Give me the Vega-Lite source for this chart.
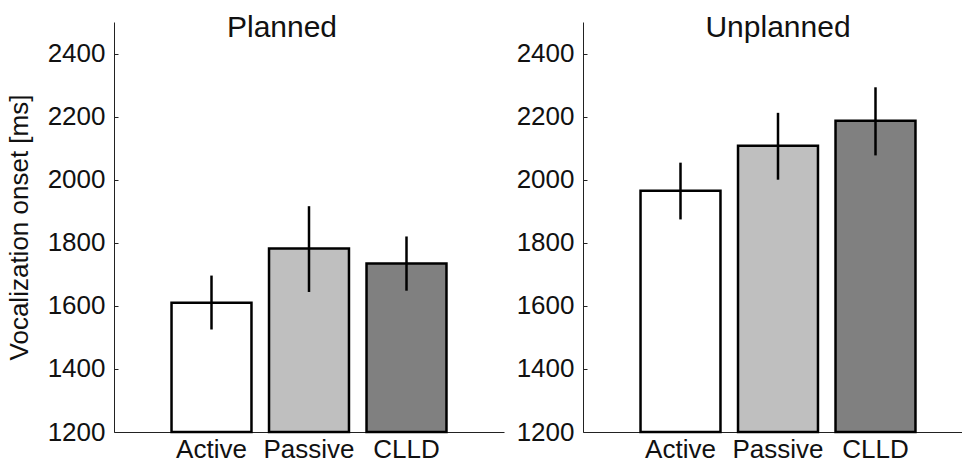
{
  "$schema": "https://vega.github.io/schema/vega-lite/v6.json",
  "background": "white",
  "padding": {"left": 6, "top": 13, "right": 0, "bottom": 0},
  "spacing": 12,
  "config": {
    "view": {"stroke": null},
    "font": "Liberation Sans",
    "axis": {"grid": false, "domainColor": "#222", "tickColor": "#222", "labelColor": "#111", "titleColor": "#111", "labelFont": "Liberation Sans", "titleFont": "Liberation Sans", "labelFontSize": 26, "titleFontSize": 26, "titleFontWeight": "normal"},
    "title": {"font": "Liberation Sans", "fontSize": 30, "fontWeight": "normal", "color": "#111"}
  },
  "data": {"values": [
    {"panel": "Planned", "cond": "Active", "mean": 1610, "lo": 1525, "hi": 1696},
    {"panel": "Planned", "cond": "Passive", "mean": 1782, "lo": 1644, "hi": 1916},
    {"panel": "Planned", "cond": "CLLD", "mean": 1734, "lo": 1648, "hi": 1820},
    {"panel": "Unplanned", "cond": "Active", "mean": 1965, "lo": 1874, "hi": 2054},
    {"panel": "Unplanned", "cond": "Passive", "mean": 2108, "lo": 2000, "hi": 2212},
    {"panel": "Unplanned", "cond": "CLLD", "mean": 2187, "lo": 2077, "hi": 2293}
  ]},
  "hconcat": [
    {
      "width": 390, "height": 410,
      "title": {"text": "Planned", "offset": -21, "anchor": "middle", "dx": -27},
      "transform": [{"filter": "datum.panel === 'Planned'"}],
      "encoding": {
        "x": {"field": "cond", "type": "nominal", "sort": ["Active", "Passive", "CLLD"], "title": null,
              "scale": {"paddingInner": 0.18, "paddingOuter": 0.59},
              "axis": {"labelAngle": 0, "ticks": false, "labelPadding": 4}}
      },
      "layer": [
        {"mark": {"type": "bar", "stroke": "black", "strokeWidth": 2.5},
         "encoding": {
           "y": {"field": "mean", "type": "quantitative", "title": "Vocalization onset [ms]",
                 "scale": {"domain": [1200, 2500], "zero": false, "nice": false},
                 "axis": {"values": [1200, 1400, 1600, 1800, 2000, 2200, 2400], "format": "d", "tickSize": -4, "labelPadding": 13, "titlePadding": 15}},
           "y2": {"datum": 1200},
           "color": {"field": "cond", "type": "nominal", "scale": {"domain": ["Active", "Passive", "CLLD"], "range": ["#ffffff", "#bfbfbf", "#808080"]}, "legend": null}
         }},
        {"mark": {"type": "rule", "color": "black", "strokeWidth": 2.5},
         "encoding": {"y": {"field": "lo", "type": "quantitative"}, "y2": {"field": "hi"}}}
      ]
    },
    {
      "width": 390, "height": 410,
      "title": {"text": "Unplanned", "offset": -21, "anchor": "middle"},
      "transform": [{"filter": "datum.panel === 'Unplanned'"}],
      "encoding": {
        "x": {"field": "cond", "type": "nominal", "sort": ["Active", "Passive", "CLLD"], "title": null,
              "scale": {"paddingInner": 0.18, "paddingOuter": 0.59},
              "axis": {"labelAngle": 0, "ticks": false, "labelPadding": 4}}
      },
      "layer": [
        {"mark": {"type": "bar", "stroke": "black", "strokeWidth": 2.5},
         "encoding": {
           "y": {"field": "mean", "type": "quantitative", "title": null,
                 "scale": {"domain": [1200, 2500], "zero": false, "nice": false},
                 "axis": {"values": [1200, 1400, 1600, 1800, 2000, 2200, 2400], "format": "d", "tickSize": -4, "labelPadding": 13}},
           "y2": {"datum": 1200},
           "color": {"field": "cond", "type": "nominal", "scale": {"domain": ["Active", "Passive", "CLLD"], "range": ["#ffffff", "#bfbfbf", "#808080"]}, "legend": null}
         }},
        {"mark": {"type": "rule", "color": "black", "strokeWidth": 2.5},
         "encoding": {"y": {"field": "lo", "type": "quantitative"}, "y2": {"field": "hi"}}}
      ]
    }
  ]
}
